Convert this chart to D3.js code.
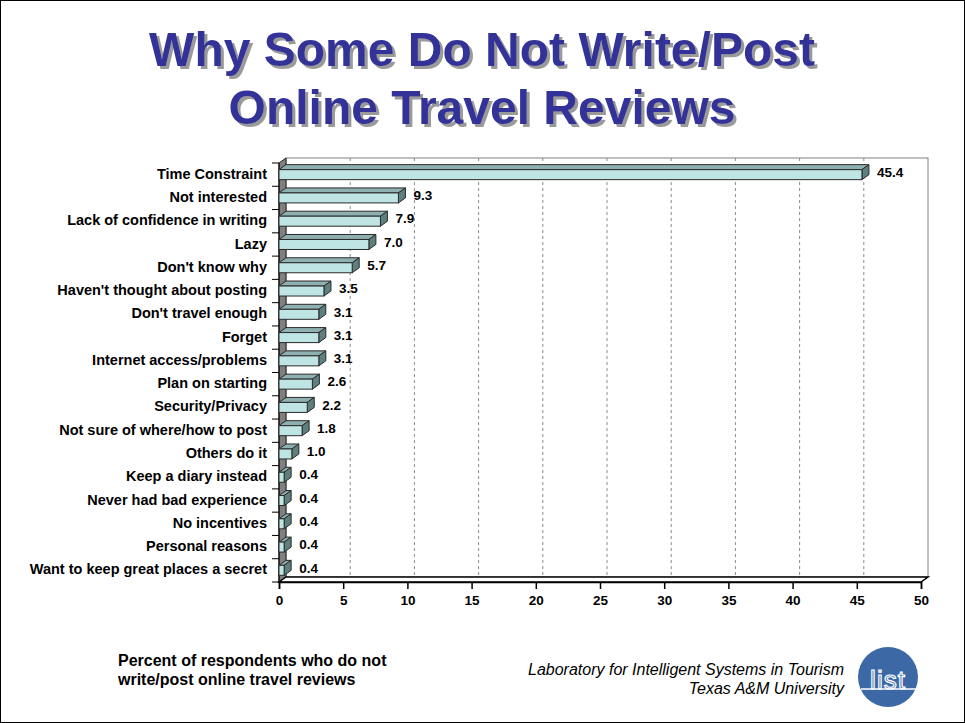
<!DOCTYPE html>
<html>
<head>
<meta charset="utf-8">
<script src="https://cdn.jsdelivr.net/npm/d3@7/dist/d3.min.js"></script>
<style>
  html, body { margin: 0; padding: 0; background: #fff; }
  svg { display: block; font-family: "Liberation Sans", Arial, sans-serif; }
</style>
</head>
<body>
<svg id="chart" width="965" height="723"></svg>
<script>
// Reasons for not writing/posting online travel reviews (% of respondents)
const categories = [
  "Time Constraint",
  "Not interested",
  "Lack of confidence in writing",
  "Lazy",
  "Don't know why",
  "Haven't thought about posting",
  "Don't travel enough",
  "Forget",
  "Internet access/problems",
  "Plan on starting",
  "Security/Privacy",
  "Not sure of where/how to post",
  "Others do it",
  "Keep a diary instead",
  "Never had bad experience",
  "No incentives",
  "Personal reasons",
  "Want to keep great places a secret"
];
const values = [45.4, 9.3, 7.9, 7.0, 5.7, 3.5, 3.1, 3.1, 3.1, 2.6, 2.2, 1.8, 1.0, 0.4, 0.4, 0.4, 0.4, 0.4];
const xTicks = [0, 5, 10, 15, 20, 25, 30, 35, 40, 45, 50];
const titleLines = ["Why Some Do Not Write/Post", "Online Travel Reviews"];
const footnoteLines = ["Percent of respondents who do not", "write/post online travel reviews"];
const creditLines = ["Laboratory for Intelligent Systems in Tourism", "Texas A&M University"];

(function () {
const svg = d3.select("#chart");
const W = 965, H = 723;

// drop shadow for the title
const defs = svg.append("defs");
const shadow = defs.append("filter").attr("id", "titleShadow")
  .attr("x", "-5%").attr("y", "-20%").attr("width", "110%").attr("height", "140%");
shadow.append("feDropShadow").attr("dx", 3).attr("dy", 3).attr("stdDeviation", 0.7)
  .attr("flood-color", "#9a9a9a").attr("flood-opacity", 1);

// slide frame
svg.append("rect").attr("x", 0.5).attr("y", 0.5).attr("width", W - 1).attr("height", H - 1)
  .attr("fill", "#fff").attr("stroke", "#000").attr("stroke-width", 1);

// title
const title = svg.append("g").attr("filter", "url(#titleShadow)");
titleLines.forEach((t, i) => {
  title.append("text").attr("x", 482).attr("y", 66 + i * 58).attr("text-anchor", "middle")
    .attr("font-size", 48).attr("font-weight", "bold").attr("fill", "#333399").text(t);
});

// plot geometry (front plane) and 3D depth offset
const pLeft = 279, pRight = 921, pTop = 163, pBottom = 582;
const dx = 7, dy = -5;

const x = d3.scaleLinear().domain([0, 50]).range([pLeft, pRight]);
const y = d3.scaleBand().domain(categories).range([pTop, pBottom]).padding(0);

const plot = svg.append("g");

// back wall
plot.append("rect").attr("x", pLeft + dx).attr("y", pTop + dy)
  .attr("width", pRight - pLeft).attr("height", pBottom - pTop)
  .attr("fill", "#fff").attr("stroke", "#808080").attr("stroke-width", 1);

// dashed gridlines on the back wall
plot.selectAll("line.grid").data(xTicks.filter(d => d > 0 && d < 50)).join("line")
  .attr("class", "grid")
  .attr("x1", d => x(d) + dx).attr("x2", d => x(d) + dx)
  .attr("y1", pTop + dy).attr("y2", pBottom + dy)
  .attr("stroke", "#8c8c8c").attr("stroke-width", 1).attr("stroke-dasharray", "3,3");

// left wall
plot.append("path")
  .attr("d", `M${pLeft},${pTop} L${pLeft + dx},${pTop + dy} L${pLeft + dx},${pBottom + dy} L${pLeft},${pBottom} Z`)
  .attr("fill", "#808080").attr("stroke", "#222").attr("stroke-width", 1);

// floor
plot.append("path")
  .attr("d", `M${pLeft},${pBottom} L${pLeft + dx},${pBottom + dy} L${pRight + dx},${pBottom + dy} L${pRight},${pBottom} Z`)
  .attr("fill", "#fff").attr("stroke", "#000").attr("stroke-width", 1.5);

// category axis ticks on the left wall
plot.selectAll("line.ytick").data(d3.range(categories.length + 1)).join("line")
  .attr("class", "ytick")
  .attr("x1", pLeft - 7).attr("x2", pLeft)
  .attr("y1", i => pTop + i * y.bandwidth()).attr("y2", i => pTop + i * y.bandwidth())
  .attr("stroke", "#000").attr("stroke-width", 1);
plot.append("line").attr("x1", pLeft).attr("x2", pLeft).attr("y1", pTop).attr("y2", pBottom)
  .attr("stroke", "#000").attr("stroke-width", 1);

// value axis along the front edge
const xAxis = d3.axisBottom(x).tickValues(xTicks).tickSize(7).tickPadding(6).tickFormat(d3.format("d"));
const xg = plot.append("g").attr("transform", `translate(0,${pBottom})`).call(xAxis);
xg.select(".domain").attr("stroke", "#000").attr("stroke-width", 1.5);
xg.selectAll(".tick line").attr("stroke", "#000").attr("stroke-width", 1.5);
xg.selectAll(".tick text").attr("font-size", 13.5).attr("font-weight", "bold")
  .attr("font-family", "Liberation Sans, Arial, sans-serif").attr("fill", "#000");

// 3D bars
const barH = 10;
const bars = plot.selectAll("g.bar").data(categories.map((c, i) => ({ c, v: values[i] }))).join("g")
  .attr("class", "bar");
bars.each(function (d) {
  const g = d3.select(this);
  const yc = y(d.c) + y.bandwidth() / 2;
  const y0 = yc - barH / 2, y1 = yc + barH / 2;
  const x0 = x(0), x1 = x(d.v);
  // top face
  g.append("path")
    .attr("d", `M${x0},${y0} L${x0 + dx},${y0 + dy} L${x1 + dx},${y0 + dy} L${x1},${y0} Z`)
    .attr("fill", "#8fb0b0").attr("stroke", "#2a2a2a").attr("stroke-width", 1).attr("stroke-linejoin", "round");
  // side face
  g.append("path")
    .attr("d", `M${x1},${y0} L${x1 + dx},${y0 + dy} L${x1 + dx},${y1 + dy} L${x1},${y1} Z`)
    .attr("fill", "#5f7f7f").attr("stroke", "#2a2a2a").attr("stroke-width", 1).attr("stroke-linejoin", "round");
  // front face
  g.append("rect").attr("x", x0).attr("y", y0).attr("width", x1 - x0).attr("height", barH)
    .attr("fill", "#bfe4e4").attr("stroke", "#2a2a2a").attr("stroke-width", 1);
  // value label
  g.append("text").attr("x", x1 + dx + 8).attr("y", yc - 2.5).attr("dy", "0.35em")
    .attr("font-size", 13.5).attr("font-weight", "bold").attr("fill", "#000")
    .text(d3.format(".1f")(d.v));
});

// category labels
plot.selectAll("text.cat").data(categories).join("text")
  .attr("class", "cat")
  .attr("x", 267).attr("y", d => y(d) + y.bandwidth() / 2 - 1).attr("dy", "0.35em")
  .attr("text-anchor", "end").attr("font-size", 14.5).attr("font-weight", "bold").attr("fill", "#000")
  .text(d => d);

// footnote
footnoteLines.forEach((t, i) => {
  svg.append("text").attr("x", 118).attr("y", 666 + i * 18.5)
    .attr("font-size", 16).attr("font-weight", "bold").attr("fill", "#000").text(t);
});

// credits
creditLines.forEach((t, i) => {
  svg.append("text").attr("x", 844).attr("y", 675 + i * 19).attr("text-anchor", "end")
    .attr("font-size", 16).attr("font-style", "italic").attr("fill", "#000").text(t);
});

// lab logo
const logo = svg.append("g").attr("transform", "translate(888,677)");
logo.append("circle").attr("r", 30).attr("fill", "#3c69a6");
logo.append("text").attr("x", 0).attr("y", 12).attr("text-anchor", "middle")
  .attr("font-size", 26).attr("fill", "none").attr("stroke", "#fff").attr("stroke-width", 1.2)
  .attr("letter-spacing", 1).text("list");
logo.append("line").attr("x1", -27).attr("x2", 29).attr("y1", 12).attr("y2", 12)
  .attr("stroke", "#fff").attr("stroke-width", 1.5);
})();
</script>
</body>
</html>
